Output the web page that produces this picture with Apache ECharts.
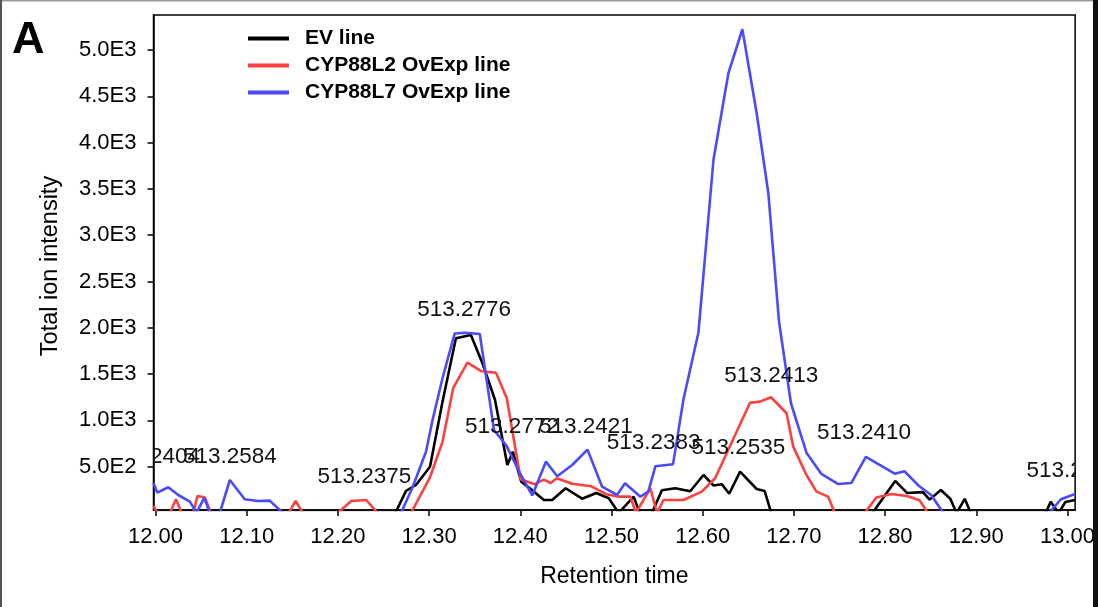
<!DOCTYPE html>
<html>
<head>
<meta charset="utf-8">
<script src="https://cdn.jsdelivr.net/npm/echarts@6/dist/echarts.min.js"></script>
<style>
html,body{margin:0;padding:0;background:#fff;}
#chart{width:1098px;height:607px;}
</style>
</head>
<body>
<div id="chart"></div>
<script>
// ---------- data ----------
const seriesNames = ['EV line', 'CYP88L2 OvExp line', 'CYP88L7 OvExp line'];

const xTickValues = [12.0, 12.1, 12.2, 12.3, 12.4, 12.5, 12.6, 12.7, 12.8, 12.9, 13.0];
const xTickLabels = ['12.00','12.10','12.20','12.30','12.40','12.50','12.60','12.70','12.80','12.90','13.00'];
const yTickValues = [500, 1000, 1500, 2000, 2500, 3000, 3500, 4000, 4500, 5000];
const yTickLabels = ['5.0E2','1.0E3','1.5E3','2.0E3','2.5E3','3.0E3','3.5E3','4.0E3','4.5E3','5.0E3'];

// [retention time, intensity]
const evLine = [
  [11.9978,0],[12.2630,0],[12.2747,238],[12.2856,302],[12.3010,500],[12.3147,1202],[12.3294,1887],
  [12.3458,1922],[12.3585,1617],[12.3723,1220],[12.3858,518],[12.3918,662],[12.4010,338],[12.4104,267],
  [12.4259,140],[12.4350,140],[12.4497,267],[12.4678,154],[12.4833,216],[12.4970,159],[12.5079,0],
  [12.5243,176],[12.5309,0],[12.5443,0],[12.5553,245],[12.5699,267],[12.5863,234],[12.6009,410],
  [12.6118,297],[12.6209,311],[12.6291,208],[12.6410,446],[12.6592,259],[12.6679,238],[12.6752,0],
  [12.7862,0],[12.8111,346],[12.8240,216],[12.8415,225],[12.8488,144],[12.8611,248],[12.8715,153],
  [12.8784,0],[12.8874,153],[12.8939,0],[12.9760,0],[12.9817,122],[12.9902,0],[12.9978,119],[13.0084,140]
];

const l2Line = [
  [11.9978,76],[12.0020,0],[12.0159,0],[12.0224,148],[12.0287,0],[12.0413,0],[12.0461,184],[12.0541,167],
  [12.0607,0],[12.1460,0],[12.1536,130],[12.1616,0],[12.1999,0],[12.2145,130],[12.2310,140],[12.2436,0],
  [12.2802,0],[12.3007,378],[12.3147,767],[12.3264,1347],[12.3420,1623],[12.3576,1530],[12.3734,1515],
  [12.3852,1239],[12.4004,365],[12.4159,311],[12.4259,360],[12.4332,324],[12.4401,375],[12.4569,316],
  [12.4779,288],[12.4943,203],[12.5079,176],[12.5207,176],[12.5268,0],[12.5275,0],[12.5426,267],[12.5500,0],
  [12.5571,140],[12.5790,140],[12.5990,230],[12.6137,375],[12.6519,1191],[12.6629,1202],[12.6749,1250],
  [12.6920,1077],[12.6993,716],[12.7138,410],[12.7248,230],[12.7376,176],[12.7449,0],[12.7777,0],
  [12.7904,167],[12.8068,205],[12.8240,184],[12.8378,137],[12.8469,0],[13.0084,0]
];

const l7Line = [
  [11.9978,324],[12.0020,219],[12.0140,278],[12.0249,194],[12.0377,122],[12.0451,0],[12.0534,165],
  [12.0596,0],[12.0705,0],[12.0815,356],[12.0979,148],[12.1124,130],[12.1252,133],[12.1398,0],
  [12.2692,0],[12.2819,278],[12.2966,662],[12.3038,1004],[12.3147,1455],[12.3281,1939],[12.3395,1947],
  [12.3556,1933],[12.3712,896],[12.3849,724],[12.3986,448],[12.4131,189],[12.4281,554],[12.4405,396],
  [12.4569,518],[12.4737,684],[12.4897,284],[12.5061,194],[12.5148,321],[12.5317,176],[12.5404,230],
  [12.5481,504],[12.5675,527],[12.5790,1231],[12.5954,1952],[12.6118,3812],[12.6282,4749],[12.6435,5224],
  [12.6592,4317],[12.6720,3453],[12.6837,2066],[12.6968,1185],[12.7138,651],[12.7302,421],[12.7482,313],
  [12.7631,324],[12.7789,605],[12.8105,424],[12.8214,450],[12.8369,294],[12.8505,194],[12.8639,0],
  [12.9800,0],[12.9927,148],[13.0084,205]
];

const peakLabels = ['513.2404','513.2584','513.2375','513.2776','513.2772','513.2421','513.2383','513.2535','513.2413','513.2410','513.2405'];
const peakLabelTimes = [11.9973,12.0815,12.2291,12.3384,12.3909,12.4719,12.5462,12.6391,12.6752,12.7769,13.0066];
const peakLabelValues = [605,605,389,2192,929,929,756,702,1480,864,454];

const xRange = [11.9978, 13.0084];
const yRange = [32, 5378];

// ---------- chart ----------
const FONT = '"Liberation Sans", Arial, Helvetica, sans-serif';
const colors = ['#000000', '#ff4040', '#4a4aff'];
const lineData = [evLine, l2Line, l7Line];

function pick(values, labels) {
  return function (v) {
    for (let i = 0; i < values.length; i++) {
      if (Math.abs(values[i] - v) < 1e-6) return labels[i];
    }
    return '';
  };
}

const chart = echarts.init(document.getElementById('chart'), null, { renderer: 'canvas' });

const option = {
  animation: false,
  backgroundColor: '#ffffff',
  grid: {
    left: 153.5, right: 20.3, top: 15, bottom: 97,
    show: true, borderColor: '#000', borderWidth: 1.5, backgroundColor: 'transparent'
  },
  legend: {
    orient: 'vertical', left: 248, top: 27, padding: 0,
    itemWidth: 41, itemHeight: 4, itemGap: 4, icon: 'rect',
    data: seriesNames,
    textStyle: {
      fontFamily: FONT, fontSize: 21, fontWeight: 'bold', color: '#000',
      lineHeight: 23, padding: [0, 0, 0, 11]
    }
  },
  xAxis: {
    type: 'value', min: xRange[0], max: xRange[1],
    axisLine: { show: true, onZero: false, lineStyle: { color: '#000', width: 1.5 } },
    axisTick: { show: true, customValues: xTickValues, length: 6, lineStyle: { color: '#000', width: 1.5 } },
    axisLabel: {
      customValues: xTickValues, formatter: pick(xTickValues, xTickLabels),
      margin: 16, fontSize: 22, fontFamily: FONT, color: '#000'
    },
    splitLine: { show: false },
    name: 'Retention time', nameLocation: 'middle', nameGap: 55,
    nameTextStyle: { fontFamily: FONT, fontSize: 23, color: '#000' }
  },
  yAxis: {
    type: 'value', min: yRange[0], max: yRange[1],
    axisLine: { show: true, onZero: false, lineStyle: { color: '#000', width: 1.5 } },
    axisTick: { show: true, customValues: yTickValues, length: 6, lineStyle: { color: '#000', width: 1.5 } },
    axisLabel: {
      customValues: yTickValues, formatter: pick(yTickValues, yTickLabels),
      margin: 17, fontSize: 22, fontFamily: FONT, color: '#000'
    },
    splitLine: { show: false },
    name: 'Total ion intensity', nameLocation: 'middle', nameGap: 91, nameRotate: 90,
    nameTextStyle: { fontFamily: FONT, fontSize: 23.5, color: '#000', padding: [0, 7, 0, 0] }
  },
  series: seriesNames.map((name, i) => ({
    type: 'line', name: name, data: lineData[i],
    showSymbol: false, symbol: 'none', clip: true, z: 2 + i,
    lineStyle: { color: colors[i], width: 2.6 },
    itemStyle: { color: colors[i] }
  })).concat([{
    type: 'custom', coordinateSystem: 'cartesian2d', clip: true, z: 10, silent: true,
    data: peakLabels.map((s, i) => [peakLabelTimes[i], peakLabelValues[i], i]),
    encode: { x: 0, y: 1 },
    renderItem: function (params, api) {
      const p = api.coord([api.value(0), api.value(1)]);
      const i = api.value(2);
      return {
        type: 'text', x: p[0], y: p[1],
        style: { text: peakLabels[i], font: '22.5px ' + FONT, fill: '#111', align: 'center', verticalAlign: 'middle' }
      };
    }
  }]),
  graphic: [
    { type: 'text', left: 12, top: 18, z: 100, style: { text: 'A', font: 'bold 45px ' + FONT, fill: '#000' } },
    { type: 'rect', left: 0, top: 0, z: 100, shape: { width: 1098, height: 1.5 }, style: { fill: '#9a9a9a' } },
    { type: 'rect', left: 0, top: 0, z: 100, shape: { width: 2, height: 607 }, style: { fill: '#555' } },
    { type: 'rect', left: 1093, top: 0, z: 100, shape: { width: 5, height: 607 }, style: { fill: '#111' } }
  ]
};

chart.setOption(option);
</script>
</body>
</html>
